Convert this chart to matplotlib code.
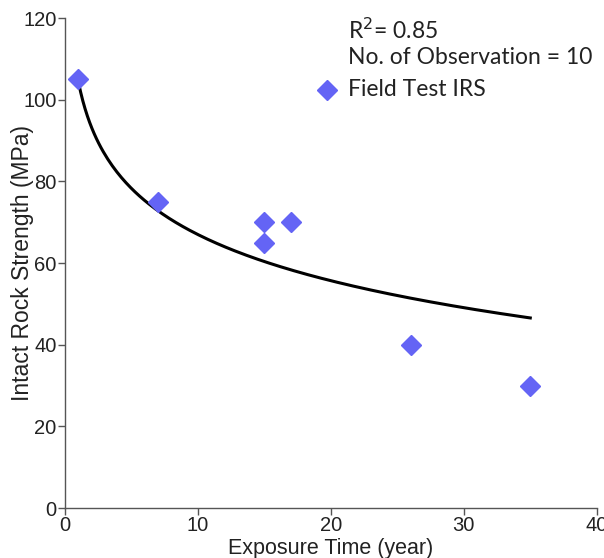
import numpy as np
import matplotlib
matplotlib.use("Agg")
import matplotlib.pyplot as plt

# Data
exposure_years = [1, 7, 15, 15, 17, 26, 35]
irs_mpa = [105, 75, 70, 65, 70, 40, 30]

# Logarithmic trend line: y = fit_a - fit_b * ln(x)
fit_a = 104.5
fit_b = 16.3
fit_x_min, fit_x_max = 1, 35

x_ticks = [0, 10, 20, 30, 40]
y_ticks = [0, 20, 40, 60, 80, 100, 120]

r2_text = "R$^{2}$= 0.85"
obs_text = "No. of Observation = 10"
legend_label = "Field Test IRS"

fig = plt.figure(figsize=(6.04, 5.58), dpi=100)
ax = fig.add_axes([0.1076, 0.0896, 0.8804, 0.8781])

xf = np.linspace(fit_x_min, fit_x_max, 200)
yf = fit_a - fit_b * np.log(xf)
ax.plot(xf, yf, color="black", lw=2.2, zorder=2)

ax.plot(exposure_years, irs_mpa, linestyle="none", marker="D", ms=10.5,
        color="#6464f5", markeredgecolor="#6464f5", zorder=3, clip_on=False)

ax.set_xlim(0, 40)
ax.set_ylim(0, 120)
ax.set_xticks(x_ticks)
ax.set_yticks(y_ticks)

for s in ["top", "right"]:
    ax.spines[s].set_visible(False)
for s in ["left", "bottom"]:
    ax.spines[s].set_color("#555555")
    ax.spines[s].set_linewidth(1.0)
ax.tick_params(direction="out", length=5, width=1.0, color="#555555",
               labelsize=14.5, labelcolor="#222222", pad=1)
for lab in ax.get_xticklabels() + ax.get_yticklabels():
    lab.set_fontfamily("Liberation Sans")

ax.set_xlabel("Exposure Time (year)", fontsize=15.5, family="Liberation Sans",
              color="#222222", labelpad=2)
ax.set_ylabel("Intact Rock Strength (MPa)", fontsize=16.5, family="Liberation Sans",
              color="#222222")
ax.yaxis.set_label_coords((34 - 65) / 532, 0.5)

# Annotation block
tx = 348 / 604
fig.text(tx, 1 - 30/558, r2_text, fontsize=16.5, family="Lato",
         color="#222222", va="center", ha="left")
fig.text(tx, 1 - 58/558, obs_text, fontsize=16.5, family="Lato",
         color="#222222", va="center", ha="left")
fig.text(tx, 1 - 90/558, legend_label, fontsize=16.5, family="Lato",
         color="#222222", va="center", ha="left")
fig.lines.append(matplotlib.lines.Line2D([327/604], [1 - 90/558], transform=fig.transFigure,
                 marker="D", ms=10.5, color="#6464f5", linestyle="none"))

fig.savefig("out.png", dpi=100)
